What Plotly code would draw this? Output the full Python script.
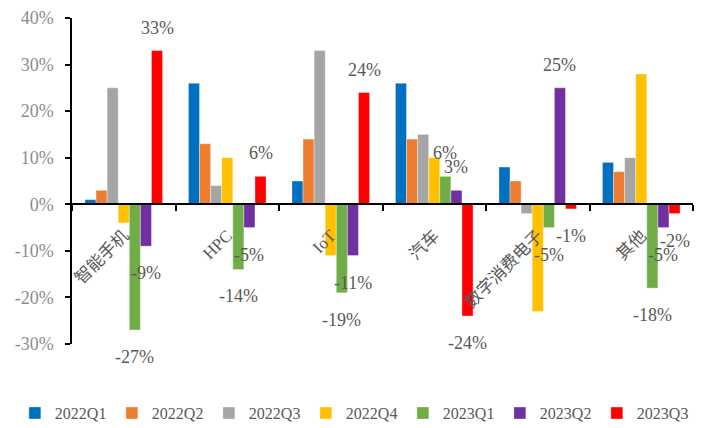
import plotly.graph_objects as go

# Categories and quarterly growth rates (%)
categories = ["智能手机", "HPC", "IoT", "汽车", "数字消费电子", "其他"]
quarters = ["2022Q1", "2022Q2", "2022Q3", "2022Q4", "2023Q1", "2023Q2", "2023Q3"]

q2022q1 = [1, 26, 5, 26, 8, 9]
q2022q2 = [3, 13, 14, 14, 5, 7]
q2022q3 = [25, 4, 33, 15, -2, 10]
q2022q4 = [-4, 10, -11, 10, -23, 28]
q2023q1 = [-27, -14, -19, 6, -5, -18]
q2023q2 = [-9, -5, -11, 3, 25, -5]
q2023q3 = [33, 6, 24, -24, -1, -2]

series = [q2022q1, q2022q2, q2022q3, q2022q4, q2023q1, q2023q2, q2023q3]
colors = ["#0070C0", "#ED7D31", "#A5A5A5", "#FFC000", "#70AD47", "#7030A0", "#FF0000"]
labelled = ["2023Q1", "2023Q2", "2023Q3"]

y_ticks = [-30, -20, -10, 0, 10, 20, 30, 40]
y_min, y_max = -30, 40

serif = "Liberation Serif, Noto Sans CJK SC"
label_gray = "#595959"
tick_gray = "#8C8C8C"
bargap = 0.25

fig = go.Figure()
for name, vals, col in zip(quarters, series, colors):
    fig.add_trace(go.Bar(
        name=name, x=categories, y=vals,
        marker=dict(color=col, line=dict(width=0.6, color="rgba(255,255,255,0.6)")),
    ))

# value labels for the 2023 series, centred on each bar
n = len(quarters)
w = (1 - bargap) / n
annotations = []
for j, (name, vals) in enumerate(zip(quarters, series)):
    if name not in labelled:
        continue
    for i, v in enumerate(vals):
        xc = i - (1 - bargap) / 2 + w * (j + 0.5)
        annotations.append(dict(
            x=xc, y=v, xref="x", yref="y", text=f"{v}%", showarrow=False,
            yanchor="middle", xanchor="center",
            yshift=23 if v >= 0 else -27,
            font=dict(family=serif, size=18, color=label_gray),
        ))

fig.update_layout(
    width=705, height=428,
    margin=dict(l=72, r=12, t=18, b=84, autoexpand=False),
    paper_bgcolor="white", plot_bgcolor="white",
    barmode="group", bargap=bargap, bargroupgap=0,
    showlegend=True,
    legend=dict(
        orientation="h", x=-0.092, xanchor="left",
        y=-0.212, yanchor="middle",
        font=dict(family=serif, size=16, color=label_gray),
        itemwidth=30, entrywidth=52, tracegroupgap=0,
    ),
    annotations=annotations,
    xaxis=dict(
        type="category",
        anchor="free", position=(0 - y_min) / (y_max - y_min),
        showline=True, linecolor="black", linewidth=1.5,
        ticks="outside", ticklen=6, tickcolor="black", tickwidth=1.5,
        tickson="boundaries", tickangle=-45, showgrid=False,
        ticklabelstandoff=14, automargin=False,
        tickfont=dict(family=serif, size=17, color=label_gray),
    ),
    yaxis=dict(
        range=[y_min, y_max], tickmode="array", tickvals=y_ticks,
        ticktext=[f"{t}%" for t in y_ticks],
        showline=True, linecolor="black", linewidth=1.5,
        ticks="outside", ticklen=5, tickcolor="black", tickwidth=1.5,
        showgrid=False, zeroline=False, ticklabelstandoff=8, automargin=False,
        tickfont=dict(family=serif, size=18, color=tick_gray),
    ),
)

fig.write_html("out.html")
